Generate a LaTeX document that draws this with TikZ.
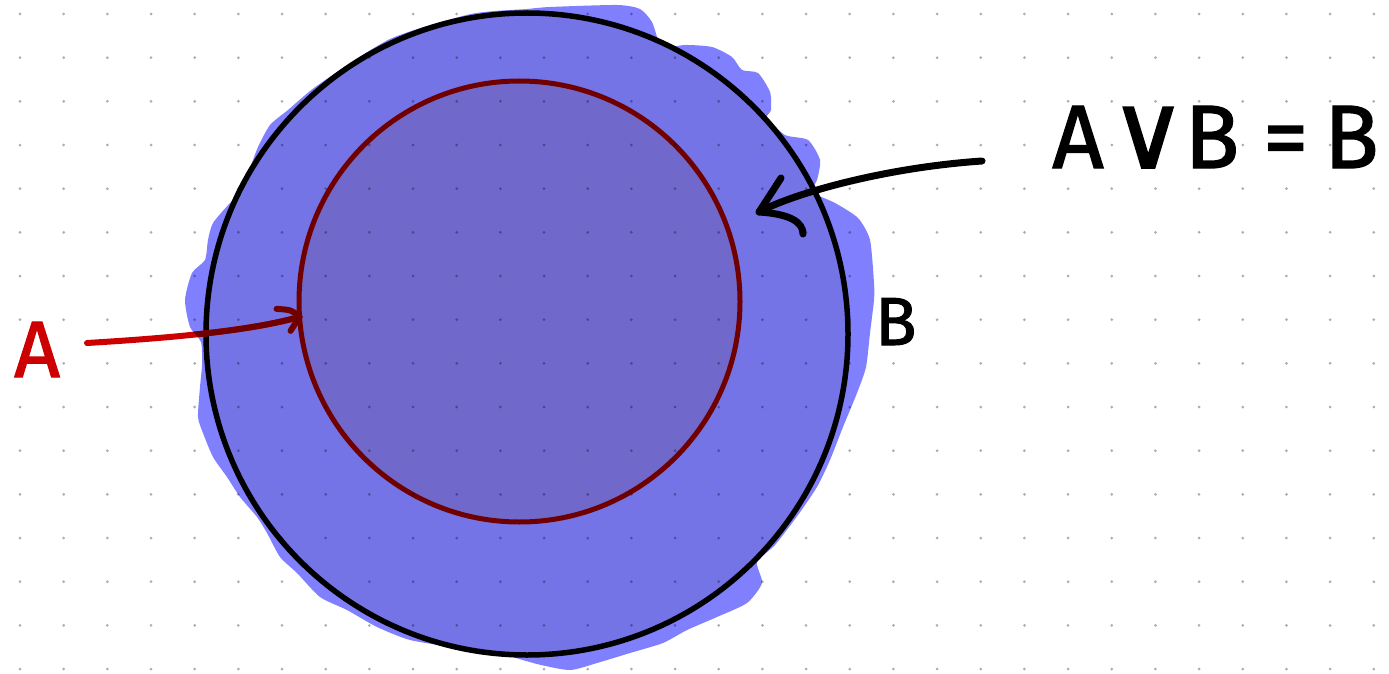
\documentclass[tikz,border=0pt]{standalone}
\usepackage{fontspec}
\setmainfont{Fira Sans}[FakeBold=1.5]
\newfontfamily\symfont{DejaVu Sans}[FakeBold=1.5]
\usetikzlibrary{calc}
\definecolor{blobc}{HTML}{8080FF}
\definecolor{bfill}{HTML}{7474E6}
\definecolor{afill}{HTML}{7168CB}
\definecolor{arim}{HTML}{700000}
\definecolor{hred}{HTML}{CC0000}
\begin{document}
\begin{tikzpicture}[x=1pt,y=-1pt,
  setcirc/.style={circle, inner sep=0pt, outer sep=0pt},
  ink/.style={line cap=round, line join=round},
  dotc/.style={black, opacity=0.32},
  handtext/.style={inner sep=0pt, anchor=base west}]
\useasboundingbox (0,0) rectangle (1389,674);
\fill[white] (0,0) rectangle (1389,674);
\newcommand\blobpath{plot[smooth cycle, tension=0.4] coordinates {
 (527,9) (550,7) (617,5) (640,9) (652,22) (658,40) (663,48) (685,45) (712,47)
 (732,57) (742,70) (758,73) (770,92) (771,110) (767,118) (785,135) (808,140)
 (820,160) (817,180) (812,192) (835,203) (858,218) (870,240) (874,283) (874,300)
 (870,333) (866,367) (857,393) (843,427) (830,460) (817,487) (798,515) (775,545)
 (757,562) (762,583) (747,603) (717,617) (687,630) (663,643) (630,653) (597,663)
 (570,670) (537,664) (487,650) (453,647) (410,640) (377,627) (347,610) (320,597)
 (297,573) (280,557) (267,533) (257,517) (240,497) (227,477) (213,457) (203,433)
 (198,417) (200,387) (202,365) (201,342) (190,327) (185,300) (192,273) (205,260)
 (208,240) (213,223) (230,203) (243,190) (252,163) (258,147) (270,125) (288,110)
 (318,85) (390,39) (471,14)}}
% blob
\fill[blobc] \blobpath;
% sets
\node[setcirc, minimum size=642pt, fill=bfill, draw=black, line width=5.5pt] (Bcirc) at (527,334) {};
\node[setcirc, minimum size=441pt, fill=afill, draw=arim, line width=5pt] (Acirc) at (519.5,301.5) {};
% dot grid
\foreach \i in {0,...,31}{
  \foreach \j in {0,...,15}{
    \fill[dotc] ({20+43.67*\i},{14+43.67*\j}) circle (1.5);
  }
}
% labels
\node[handtext, hred] (Alab) at (14,377) {\fontsize{80}{90}\selectfont A};
\node[handtext] (Blab) at (875,345) {\fontsize{68}{80}\selectfont B};
\node[handtext] (eq) at (1052,168) {\fontsize{90}{100}\selectfont A\kern6pt{\symfont\fontsize{105}{105}\selectfont ∨}\kern-2pt B = \kern-8pt B};
% red arrow A -> inner circle
\coordinate (a0) at (87,343);
\coordinate (atip) at (Acirc.184);
\draw[ink, hred, line width=6pt] (a0) .. controls (170,338) and (250,331) .. (atip);
\begin{scope}
  \clip \blobpath;
  \draw[ink, arim, line width=6pt] (a0) .. controls (170,338) and (250,331) .. (atip);
\end{scope}
\draw[ink, arim, line width=6pt] ($(atip)+(-23,-8)$) .. controls ($(atip)+(-8,-7)$) .. (atip) -- ($(atip)+(-9,14)$);
% black arrow from equation to outer region
\coordinate (b0) at (982,161);
\coordinate (btip) at (759,212);
\draw[ink, line width=7pt] (b0) .. controls (880,168) and (790,195) .. (btip);
\draw[ink, line width=7pt] (781,178) .. controls (772,192) .. (btip)
  .. controls (790,214) and (803,222) .. (803,234);
\end{tikzpicture}
\end{document}
